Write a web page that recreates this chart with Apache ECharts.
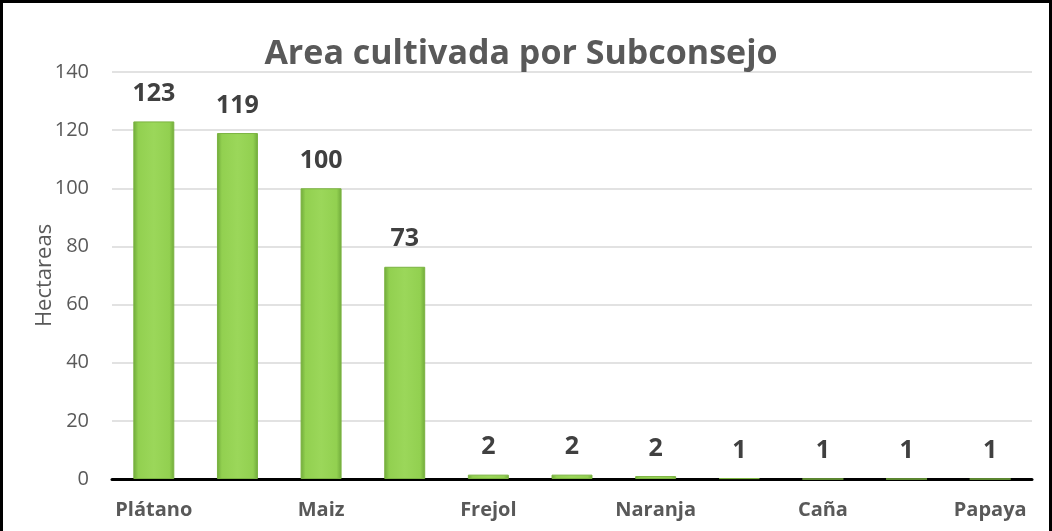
<!DOCTYPE html>
<html>
<head>
<meta charset="utf-8">
<script src="https://cdn.jsdelivr.net/npm/echarts@6/dist/echarts.min.js"></script>
<style>
  html, body { margin: 0; padding: 0; background: #fff; }
  #chart { width: 1052px; height: 531px; }
</style>
</head>
<body>
<div id="chart"></div>
<script>
// categorias (solo se muestran alternadas en el original)
const categories = ['Plátano', 'Yuca', 'Maiz', 'Cacao', 'Frejol', 'Café', 'Naranja', 'Arroz', 'Caña', 'Maní', 'Papaya']
const hectareas = [123, 119, 100, 73, 2, 2, 2, 1, 1, 1, 1]
// alturas de barra (las pequeñas casi no se ven)
const barHeights = [123, 119, 100, 73, 1.5, 1.5, 1, 0.3, 0, 0, 0]
const yTicks = { min: 0, max: 140, interval: 20 }

const chart = echarts.init(document.getElementById('chart'))

const barColor = {
  type: 'linear', x: 0, y: 0, x2: 1, y2: 0,
  colorStops: [
    { offset: 0, color: '#6fa93a' },
    { offset: 0.12, color: '#92d050' },
    { offset: 0.5, color: '#9bd75a' },
    { offset: 0.88, color: '#92d050' },
    { offset: 1, color: '#6fa93a' }
  ]
}

chart.setOption({
  animation: false,
  title: {
    text: 'Area cultivada por Subconsejo',
    left: 521,
    top: 37,
    padding: 0,
    textAlign: 'center',
    textStyle: { fontFamily: 'Open Sans', fontSize: 34, fontWeight: 'bold', color: '#595959' }
  },
  grid: { left: 112, right: 20, top: 72, bottom: 52, containLabel: false },
  xAxis: {
    type: 'category',
    data: categories,
    axisLine: { lineStyle: { color: '#000', width: 3 } },
    axisTick: { show: false },
    axisLabel: {
      interval: 1,
      margin: 21,
      fontFamily: 'Open Sans',
      fontSize: 20,
      fontWeight: 'bold',
      color: '#595959'
    }
  },
  yAxis: {
    type: 'value',
    min: yTicks.min,
    max: yTicks.max,
    interval: yTicks.interval,
    name: 'Hectareas',
    nameLocation: 'middle',
    nameGap: 56,
    nameMoveOverlap: false,
    nameTextStyle: { fontFamily: 'Open Sans', fontSize: 22, color: '#595959' },
    axisLine: { show: false },
    axisTick: { show: false },
    axisLabel: { margin: 23, fontFamily: 'Open Sans', fontSize: 20, color: '#595959' },
    splitLine: { lineStyle: { color: '#d9d9d9', width: 1.5 } }
  },
  series: [{
    type: 'bar',
    barWidth: '49%',
    data: barHeights.map((h, i) => ({ value: h, label: { formatter: String(hectareas[i]) } })),
    itemStyle: { color: barColor, borderColor: '#7bb341', borderWidth: 1 },
    label: {
      show: true,
      position: 'top',
      distance: 15,
      fontFamily: 'Open Sans',
      fontSize: 25,
      fontWeight: 'bold',
      color: '#404040'
    }
  }],
  graphic: [{
    type: 'polyline',
    shape: { points: [[1.5, 540], [1.5, 1.5], [1050.5, 1.5], [1050.5, 540]] },
    style: { stroke: '#000', lineWidth: 3, fill: null },
    silent: true
  }]
})
</script>
</body>
</html>
